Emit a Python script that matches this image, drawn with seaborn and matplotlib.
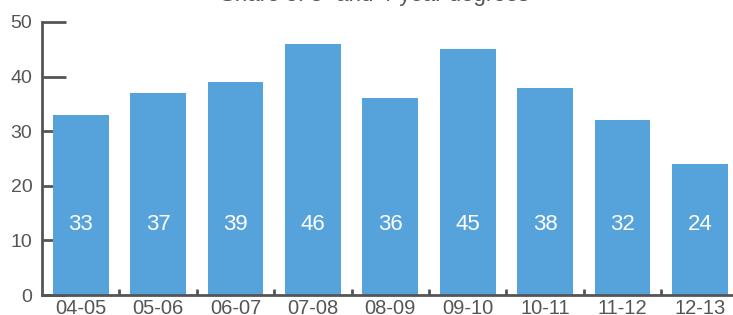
import pandas as pd
import matplotlib.pyplot as plt
import seaborn as sns
from matplotlib.ticker import FixedLocator

years = ["04-05", "05-06", "06-07", "07-08", "08-09", "09-10", "10-11", "11-12", "12-13"]
values = [33, 37, 39, 46, 36, 45, 38, 32, 24]
title = "Share of 3- and 4-year degrees"

df = pd.DataFrame({"Year": years, "Value": values})

sns.set_style("white")
plt.rcParams["font.family"] = ["Liberation Sans", "DejaVu Sans"]

grey = "#555555"
bar_color = "#56A2DA"

fig = plt.figure(figsize=(7.33, 3.15), dpi=100)
ax = fig.add_axes([42 / 733, 20 / 315, 696.6 / 733, 273 / 315])

sns.barplot(data=df, x="Year", y="Value", color=bar_color, width=0.72,
            saturation=1, errorbar=None, linewidth=0, ax=ax)

ax.set_xlim(-0.5, len(years) - 0.5)
ax.set_ylim(0, 50)
ax.set_yticks([0, 10, 20, 30, 40, 50])
ax.set_xlabel("")
ax.set_ylabel("")

for s in ["top", "right"]:
    ax.spines[s].set_visible(False)
for s in ["left", "bottom"]:
    ax.spines[s].set_color(grey)
    ax.spines[s].set_linewidth(2)

ax.tick_params(axis="y", left=True, direction="in", length=17, width=2, color=grey,
               labelcolor=grey, labelsize=14, pad=7)
ax.tick_params(axis="x", which="major", bottom=True, length=0, labelcolor=grey,
               labelsize=14.5, pad=3)
ax.xaxis.set_minor_locator(FixedLocator([i + 0.5 for i in range(len(years) - 1)]))
ax.tick_params(axis="x", which="minor", bottom=True, direction="in", length=4,
               width=2, color=grey)

# value labels inside bars
for i, v in enumerate(values):
    ax.text(i, 13.0, str(v), color="white", ha="center", va="center", fontsize=16)

fig.text(375 / 733, 1 - 1.5 / 315, title, ha="center", va="baseline",
         fontsize=16, color=grey)

fig.savefig("out.png", dpi=100)
